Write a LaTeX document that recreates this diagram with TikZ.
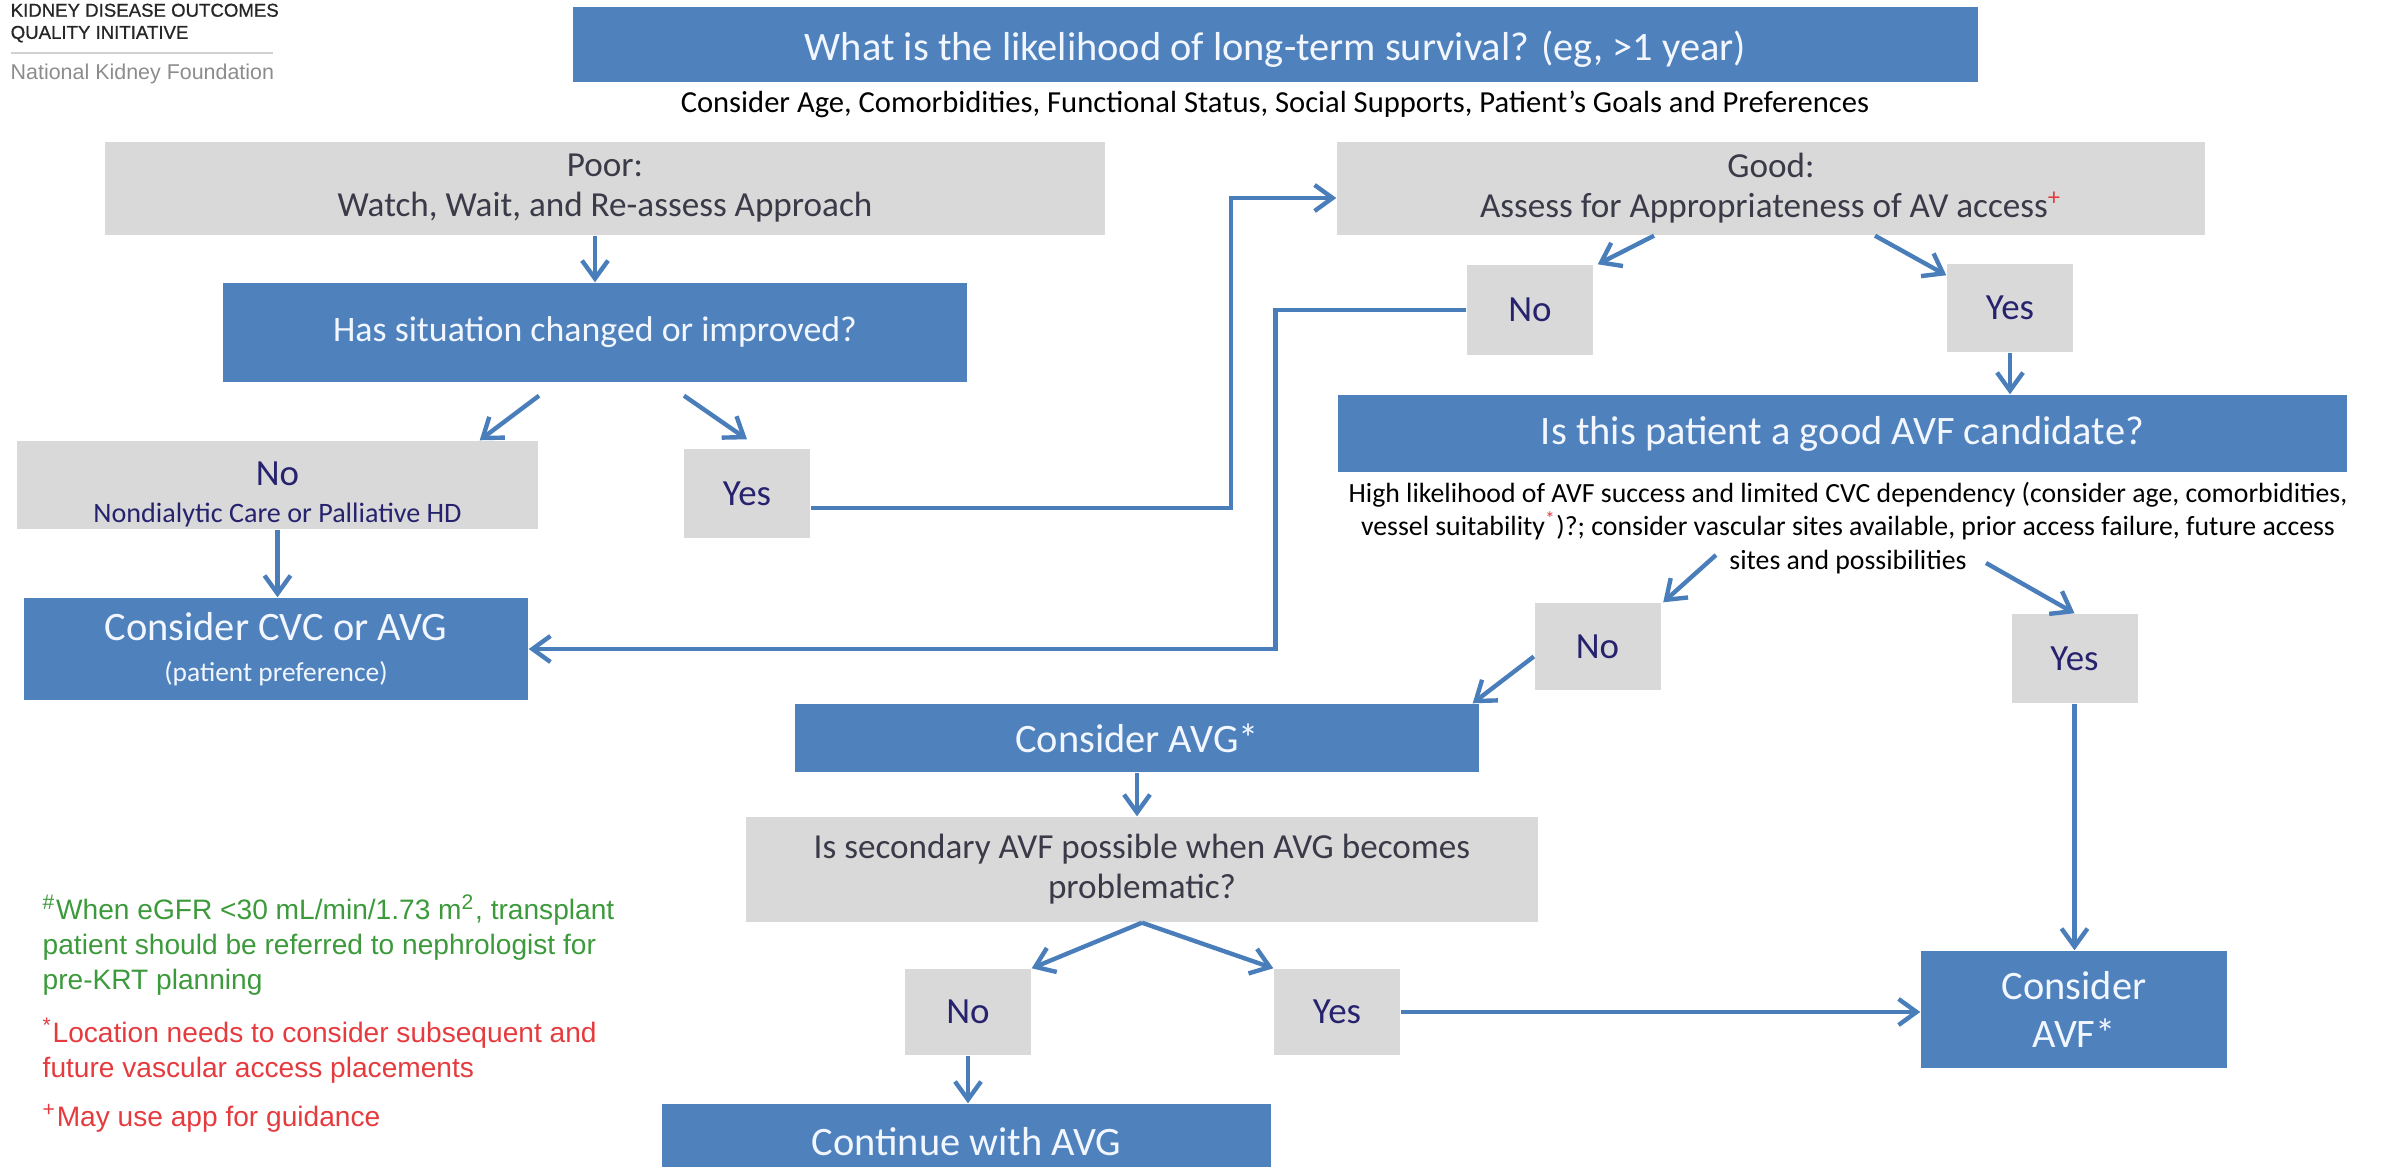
\documentclass[tikz,border=0pt]{standalone}
\usepackage{fontspec}
\setmainfont{Carlito}
\newfontfamily\arialfont{Liberation Sans}
\newfontfamily\logofont[FakeBold=0.8]{Liberation Sans}
\usetikzlibrary{arrows.meta}
\definecolor{boxblue}{HTML}{4F81BD}
\definecolor{boxgrey}{HTML}{D9D9D9}
\definecolor{arrowblue}{HTML}{4A7EBB}
\definecolor{paletext}{HTML}{F2F7FF}
\definecolor{darktext}{HTML}{3A3A48}
\definecolor{navytext}{HTML}{26226E}
\definecolor{notegreen}{HTML}{3C9A3C}
\definecolor{notered}{HTML}{E53B3F}
\definecolor{logogrey}{HTML}{8C8C8C}
\begin{document}
\begin{tikzpicture}[>={Straight Barb[length=1.8mm,width=2.6mm]},
    bluebox/.style={fill=boxblue,text=paletext,inner sep=0pt,align=center,font=\fontsize{11.5}{13.5}\selectfont},
    greybox/.style={fill=boxgrey,text=darktext,inner sep=0pt,align=center,font=\fontsize{10}{11.4}\selectfont},
    answer/.style={greybox,text=navytext,minimum width=1.26cm,font=\fontsize{10.5}{12}\selectfont},
    link/.style={->,color=arrowblue,line width=1.25pt},
    note/.style={anchor=west,align=left,inner sep=0pt,font=\arialfont\fontsize{8}{10}\selectfont}]
    \useasboundingbox (0,0) rectangle (23.87,-11.67);

    % logo
    \node[anchor=north west,inner sep=0pt,align=left,text=black!85,font=\logofont\fontsize{5.3}{6.3}\selectfont] (kdoqi) at (0.10,-0.03) {KIDNEY DISEASE OUTCOMES\\QUALITY INITIATIVE};
    \draw[black!18,line width=0.6pt] (0.11,-0.53) -- (2.73,-0.53);
    \node[anchor=west,inner sep=0pt,text=logogrey,font=\arialfont\fontsize{6.1}{7}\selectfont] (nkf) at (0.10,-0.735) {National Kidney Foundation};

    % top question
    \node[bluebox,minimum width=14.05cm,minimum height=0.75cm,text height=11.5pt,text depth=2.6pt] (survival) at (12.755,-0.445) {What is the likelihood of long-term survival? (eg, >1 year)};
    \node[font=\fontsize{8.7}{10}\selectfont] (factors) at (12.75,-1.04) {Consider Age, Comorbidities, Functional Status, Social Supports, Patient’s Goals and Preferences};

    % poor branch
    \node[greybox,minimum width=10cm,minimum height=0.93cm] (poor) at (6.05,-1.885) {Poor:\\Watch, Wait, and Re-assess Approach};
    \node[bluebox,minimum width=7.44cm,minimum height=0.99cm,font=\fontsize{10.2}{12}\selectfont] (situation) at (5.95,-3.325) {Has situation changed or improved?};
    \node[greybox,text=navytext,minimum width=5.21cm,minimum height=0.88cm,font=\fontsize{8}{10.5}\selectfont] (nondial) at (2.775,-4.85) {\rule{0pt}{12pt}{\fontsize{10.5}{12}\selectfont No}\\Nondialytic Care or Palliative HD};
    \node[answer,minimum height=0.89cm] (yes1) at (7.47,-4.935) {Yes};
    \node[bluebox,minimum width=5.04cm,minimum height=1.02cm] (cvc) at (2.76,-6.49) {Consider CVC or AVG\\[-2pt]{\fontsize{7.8}{9}\selectfont (patient preference)}};

    % good branch
    \node[greybox,minimum width=8.68cm,minimum height=0.93cm] (good) at (17.71,-1.885) {Good:\\Assess for Appropriateness of AV access\textsuperscript{\color{notered}+}};
    \node[answer,minimum height=0.90cm] (no2) at (15.30,-3.10) {No};
    \node[answer,minimum height=0.88cm] (yes2) at (20.10,-3.08) {Yes};
    \node[bluebox,minimum width=10.09cm,minimum height=0.77cm] (avfq) at (18.425,-4.335) {Is this patient a good AVF candidate?};
    \node[align=center,inner sep=0pt,font=\fontsize{7.9}{9.5}\selectfont] (criteria) at (18.48,-5.28) {High likelihood of AVF success and limited CVC dependency (consider age, comorbidities,\\vessel suitability\textsuperscript{\color{notered}*})?; consider vascular sites available, prior access failure, future access\\sites and possibilities};
    \coordinate (critL) at (17.16,-5.55);
    \coordinate (critR) at (19.86,-5.63);
    \node[answer,minimum height=0.87cm] (no3) at (15.975,-6.465) {No};
    \node[answer,minimum height=0.89cm] (yes3) at (20.745,-6.585) {Yes};
    \node[bluebox,minimum width=6.84cm,minimum height=0.68cm] (avg) at (11.37,-7.38) {Consider AVG*};
    \node[greybox,minimum width=7.92cm,minimum height=1.05cm] (secondary) at (11.42,-8.695) {Is secondary AVF possible when AVG becomes\\problematic?};
    \node[answer,minimum height=0.86cm] (no4) at (9.68,-10.12) {No};
    \node[answer,minimum height=0.86cm] (yes4) at (13.37,-10.12) {Yes};
    \node[bluebox,minimum width=6.09cm,minimum height=0.76cm] (contavg) at (9.665,-11.42) {Continue with AVG};
    \node[bluebox,minimum width=3.06cm,minimum height=1.17cm] (avf) at (20.74,-10.095) {Consider\\AVF*};

    % footnotes
    \node[note,text=notegreen] (fnkrt) at (0.42,-9.45) {\textsuperscript{\#}When eGFR <30 mL/min/1.73 m\textsuperscript{2}, transplant\\patient should be referred to nephrologist for\\pre-KRT planning};
    \node[note,text=notered] (fnloc) at (0.42,-10.51) {\textsuperscript{*}Location needs to consider subsequent and\\future vascular access placements};
    \node[note,text=notered] (fnapp) at (0.42,-11.18) {\textsuperscript{+}May use app for guidance};

    % connectors
    \draw[link] (situation.north |- poor.south) -- (situation.north);
    \draw[link] ([xshift=-0.56cm,yshift=-0.13cm]situation.south) -- ([xshift=-0.59cm]nondial.north east);
    \draw[link] ([xshift=0.89cm,yshift=-0.13cm]situation.south) -- ([yshift=0.09cm]yes1.north);
    \draw[link] (nondial.south) -- (nondial.south |- cvc.north);
    \draw[link] ([yshift=-0.145cm]yes1.east) -- ++(4.2,0) |- ([yshift=-0.095cm]good.west);
    \draw[link] ([xshift=-1.17cm]good.south) -- ([xshift=0.04cm]no2.north east);
    \draw[link] ([xshift=1.04cm]good.south) -- ([yshift=-0.12cm]yes2.north west);
    \draw[link] (no2.west) -- ++(-1.91,0) |- (cvc.east);
    \draw[link] (yes2.south) -- (yes2.south |- avfq.north);
    \draw[link] (critL) -- ([xshift=0.02cm]no3.north east);
    \draw[link] (critR) -- (yes3.north);
    \draw[link] ([yshift=-0.1cm]no3.west) -- ([xshift=-0.07cm]avg.north east);
    \draw[link] (avg.south) -- (avg.south |- secondary.north);
    \draw[link] (secondary.south) -- (no4.north east);
    \draw[link] (secondary.south) -- (yes4.north west);
    \draw[link] (no4.south) -- (no4.south |- contavg.north);
    \draw[link] (yes4.east) -- (yes4.east -| avf.west);
    \draw[link] (yes3.south) -- (yes3.south |- avf.north);
\end{tikzpicture}
\end{document}
